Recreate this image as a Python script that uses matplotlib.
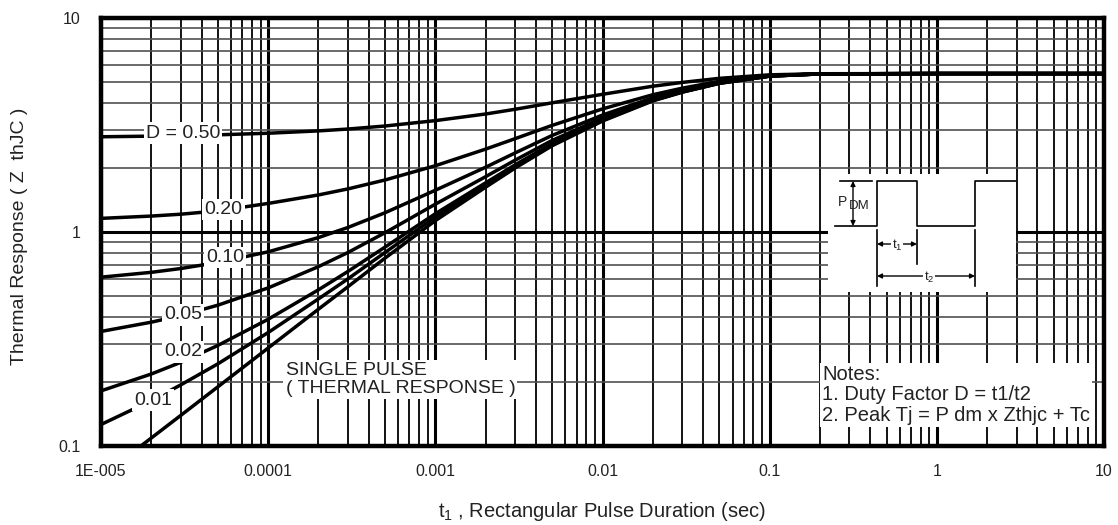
import matplotlib.pyplot as plt
from matplotlib.ticker import LogLocator, NullFormatter

# Thermal response curves
t_pulse = [1e-5, 2e-5, 3e-5, 5e-5, 1e-4, 2e-4, 3e-4, 5e-4, 1e-3, 2e-3, 3e-3,
           5e-3, 1e-2, 2e-2, 3e-2, 5e-2, 1e-1, 2e-1, 1, 10]

z_single = [0.072, 0.109, 0.139, 0.189, 0.287, 0.436, 0.555, 0.755, 1.13, 1.62, 1.99,
            2.53, 3.3, 4.1, 4.5, 4.95, 5.35, 5.48, 5.5, 5.5]
z_d001 = [0.126, 0.163, 0.193, 0.242, 0.339, 0.487, 0.604, 0.802, 1.174, 1.659, 2.025,
          2.56, 3.322, 4.114, 4.51, 4.955, 5.352, 5.48, 5.5, 5.5]
z_d002 = [0.181, 0.217, 0.246, 0.295, 0.391, 0.537, 0.654, 0.85, 1.217, 1.698, 2.06,
          2.589, 3.344, 4.128, 4.52, 4.961, 5.353, 5.48, 5.5, 5.5]
z_d005 = [0.343, 0.379, 0.407, 0.455, 0.548, 0.689, 0.802, 0.992, 1.349, 1.814, 2.166,
          2.679, 3.41, 4.17, 4.55, 4.978, 5.358, 5.481, 5.5, 5.5]
z_d010 = [0.615, 0.648, 0.675, 0.72, 0.808, 0.942, 1.05, 1.23, 1.567, 2.008, 2.341,
          2.827, 3.52, 4.24, 4.6, 5.005, 5.365, 5.482, 5.5, 5.5]
z_d020 = [1.158, 1.187, 1.211, 1.255, 1.36, 1.49, 1.59, 1.75, 2.04, 2.44, 2.73,
          3.15, 3.76, 4.38, 4.7, 5.06, 5.38, 5.484, 5.5, 5.5]
z_d050 = [2.786, 2.805, 2.82, 2.845, 2.894, 2.968, 3.028, 3.128, 3.315, 3.56, 3.745,
          4.015, 4.4, 4.8, 5.0, 5.225, 5.425, 5.49, 5.5, 5.5]

curves = [z_d050, z_d020, z_d010, z_d005, z_d002, z_d001, z_single]

curve_labels = ["D = 0.50", "0.20", "0.10", "0.05", "0.02", "0.01"]
label_t = [3.1e-5, 5.4e-5, 5.5e-5, 3.1e-5, 3.1e-5, 2.05e-5]
label_z = [2.9, 1.27, 0.76, 0.41, 0.275, 0.164]

xtick_vals = [1e-5, 1e-4, 1e-3, 1e-2, 1e-1, 1, 10]
xtick_text = ["1E-005", "0.0001", "0.001", "0.01", "0.1", "1", "10"]
ytick_vals = [0.1, 1, 10]
ytick_text = ["0.1", "1", "10"]

plt.rcParams['font.family'] = ['Liberation Sans', 'DejaVu Sans']
plt.rcParams['mathtext.fontset'] = 'custom'
plt.rcParams['mathtext.rm'] = 'Liberation Sans'
txt_col = "#222222"

fig = plt.figure(figsize=(11.18, 5.25), dpi=100)
ax = fig.add_axes([101/1118, 79/525, 1003/1118, 428/525])
ax.set_xscale("log")
ax.set_yscale("log")
ax.set_xlim(1e-5, 10)
ax.set_ylim(0.1, 10)

for z in curves:
    ax.plot(t_pulse, z, color="black", lw=2.5, solid_capstyle="butt", zorder=3)

ax.xaxis.set_minor_locator(LogLocator(base=10, subs=range(2, 10), numticks=20))
ax.yaxis.set_minor_locator(LogLocator(base=10, subs=range(2, 10), numticks=20))
ax.xaxis.set_minor_formatter(NullFormatter())
ax.yaxis.set_minor_formatter(NullFormatter())
ax.set_xticks(xtick_vals, xtick_text)
ax.set_yticks(ytick_vals, ytick_text)
ax.tick_params(which="both", length=0)
ax.tick_params(axis="x", pad=13, labelsize=11.5, labelcolor=txt_col)
ax.tick_params(axis="y", pad=15, labelsize=11.5, labelcolor=txt_col)

ax.grid(True, which="major", color="black", lw=2.2, zorder=1)
ax.xaxis.grid(True, which="minor", color="black", lw=1.3, zorder=1)
ax.yaxis.grid(True, which="minor", color="#505050", lw=1.2, zorder=1)
for s in ax.spines.values():
    s.set_linewidth(3.2)
    s.set_zorder(5)

ax.set_xlabel(r"t$_{\mathregular{1}}$ , Rectangular Pulse Duration (sec)", fontsize=14.5, color=txt_col)
ax.xaxis.label.set_verticalalignment("center")
ax.xaxis.set_label_coords(0.5, -0.152)
ax.set_ylabel("Thermal Response ( Z  thJC )", fontsize=14, color=txt_col)
ax.yaxis.label.set_verticalalignment("center")
ax.yaxis.set_label_coords(-0.081, 0.49)

box = dict(facecolor="white", edgecolor="none", pad=1.5)
for lab, tx, zy in zip(curve_labels, label_t, label_z):
    ax.text(tx, zy, lab, fontsize=14, color=txt_col, ha="center", va="center",
            bbox=box, zorder=4)

ax.text(0.184, 0.197, "SINGLE PULSE\n( THERMAL RESPONSE )", transform=ax.transAxes,
        fontsize=14, color=txt_col, ha="left", va="top", linespacing=1.1,
        bbox=box, zorder=4)
ax.text(0.719, 0.19, "Notes:\n1. Duty Factor D = t1/t2\n2. Peak Tj = P dm x Zthjc + Tc",
        transform=ax.transAxes, fontsize=14.5, color=txt_col, ha="left", va="top",
        linespacing=1.12, bbox=box, zorder=4)

# pulse diagram inset, drawn in picture pixel units
ins = fig.add_axes([828/1118, (525-292)/525, 188/1118, 118/525])
ins.set_xlim(828, 1016)
ins.set_ylim(292, 174)
ins.set_facecolor("white")
ins.set_xticks([])
ins.set_yticks([])
for s in ins.spines.values():
    s.set_visible(False)
ins.set_zorder(6)

lk = dict(color="black", lw=1.2)
ins.plot([835, 877, 877, 917, 917, 975, 975, 1016], [226, 226, 181, 181, 226, 226, 181, 181], **lk)
ins.plot([840, 872], [181, 181], **lk)
ins.plot([877, 877], [230, 286], **lk)
ins.plot([917, 917], [230, 264], **lk)
ins.plot([975, 975], [230, 286], **lk)
arr = dict(arrowstyle="<|-|>", color="black", lw=1.0, mutation_scale=7, shrinkA=0, shrinkB=0)
ins.annotate("", xy=(853, 181), xytext=(853, 226), arrowprops=arr)
ins.annotate("", xy=(877, 244), xytext=(917, 244), arrowprops=arr)
ins.annotate("", xy=(877, 276), xytext=(975, 276), arrowprops=arr)
ins.text(838, 202, "P", fontsize=10, color=txt_col, ha="left", va="center",
         bbox=dict(facecolor="white", edgecolor="none", pad=0.5))
ins.text(849, 206, "DM", fontsize=9.5, color=txt_col, ha="left", va="center")
ins.text(897, 245, r"t$_{\mathregular{1}}$", fontsize=9.5, color=txt_col, ha="center", va="center",
         bbox=dict(facecolor="white", edgecolor="none", pad=0.5))
ins.text(929, 277, r"t$_{\mathregular{2}}$", fontsize=9.5, color=txt_col, ha="center", va="center",
         bbox=dict(facecolor="white", edgecolor="none", pad=0.5))

fig.savefig("out.png", dpi=100, facecolor="white")
